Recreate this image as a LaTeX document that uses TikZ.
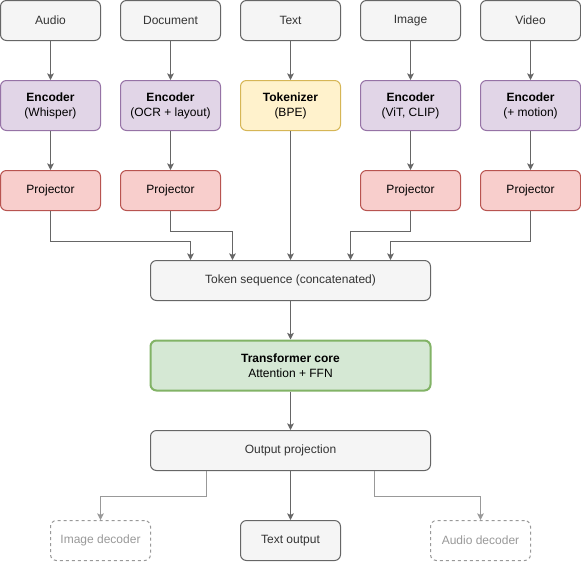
\documentclass[tikz,border=0pt]{standalone}
\usepackage{fontspec}
\setmainfont{Liberation Sans}
\usetikzlibrary{arrows.meta}
\definecolor{gfill}{HTML}{F5F5F5}
\definecolor{gline}{HTML}{666666}
\definecolor{gtext}{HTML}{333333}
\definecolor{pfill}{HTML}{E1D5E7}
\definecolor{pline}{HTML}{9673A6}
\definecolor{yfill}{HTML}{FFF2CC}
\definecolor{yline}{HTML}{D6B656}
\definecolor{rfill}{HTML}{F8CECC}
\definecolor{rline}{HTML}{B85450}
\definecolor{grfill}{HTML}{D5E8D4}
\definecolor{grline}{HTML}{82B366}
\definecolor{lgray}{HTML}{999999}
\begin{document}
\begin{tikzpicture}[x=0.75pt,y=-0.75pt,
  box/.style={draw=gline, fill=gfill, text=gtext, rounded corners=4.5pt, line width=0.75pt,
    minimum width=75pt, minimum height=30pt, align=center, inner sep=0pt,
    font=\fontsize{9}{11.25}\selectfont},
  tall/.style={minimum height=37.5pt},
  wide/.style={minimum width=210pt},
  enc/.style={box, tall, draw=pline, fill=pfill, text=black},
  tokz/.style={box, tall, draw=yline, fill=yfill, text=black},
  proj/.style={box, draw=rline, fill=rfill, text=black},
  core/.style={box, wide, tall, draw=grline, fill=grfill, text=black, line width=1.5pt},
  ghost/.style={box, draw=lgray, fill=white, text=lgray, dash pattern=on 2.25pt off 2.25pt},
  conn/.style={draw=gline, line width=0.75pt, -{Stealth[length=5pt,width=5pt,inset=1.2pt]}},
  lconn/.style={conn, draw=lgray}
]
\useasboundingbox[fill=white] (0,0) rectangle (581,561);
% top inputs
\node[box] (ia) at (50.5,20.5) {Audio};
\node[box] (id) at (170.5,20.5) {Document};
\node[box] (it) at (290.5,20.5) {Text};
\node[box] (ii) at (410.5,20.5) {Image};
\node[box] (iv) at (530.5,20.5) {Video};
% encoders
\node[enc] (ea) at (50.5,105.5) {\textbf{Encoder}\\(Whisper)};
\node[enc] (ed) at (170.5,105.5) {\textbf{Encoder}\\(OCR + layout)};
\node[tokz] (et) at (290.5,105.5) {\textbf{Tokenizer}\\(BPE)};
\node[enc] (ei) at (410.5,105.5) {\textbf{Encoder}\\(ViT, CLIP)};
\node[enc] (ev) at (530.5,105.5) {\textbf{Encoder}\\(+ motion)};
% projectors
\node[proj] (pa) at (50.5,190.5) {Projector};
\node[proj] (pd) at (170.5,190.5) {Projector};
\node[proj] (pi) at (410.5,190.5) {Projector};
\node[proj] (pv) at (530.5,190.5) {Projector};
% center
\node[box, wide] (tok) at (290.5,280.5) {Token sequence (concatenated)};
\node[core] (core) at (290.5,365.5) {\textbf{Transformer core}\\Attention + FFN};
\node[box, wide] (out) at (290.5,450.5) {Output projection};
% outputs
\node[ghost] (oi) at (100.5,540.5) {Image decoder};
\node[box] (ot) at (290.5,540.5) {Text output};
\node[ghost] (oa) at (480.5,540.5) {Audio decoder};
% connectors
\foreach \a/\b in {ia/ea, id/ed, it/et, ii/ei, iv/ev, ea/pa, ed/pd, ei/pi, ev/pv}
  \draw[conn] (\a) -- (\b);
\draw[conn] (pa.south) -- ++(0,30) -| ([xshift=-75pt]tok.north);
\draw[conn] (pd.south) -- ++(0,20) -| ([xshift=-43.5pt]tok.north);
\draw[conn] (et.south) -- (tok.north);
\draw[conn] (pi.south) -- ++(0,20) -| ([xshift=45pt]tok.north);
\draw[conn] (pv.south) -- ++(0,30) -| ([xshift=75pt]tok.north);
\draw[conn] (tok) -- (core);
\draw[conn] (core) -- (out);
\draw[conn] (out) -- (ot);
\draw[lconn] ([xshift=-63pt]out.south) -- ++(0,25) -| (oi.north);
\draw[lconn] ([xshift=63pt]out.south) -- ++(0,25) -| (oa.north);
\end{tikzpicture}
\end{document}
